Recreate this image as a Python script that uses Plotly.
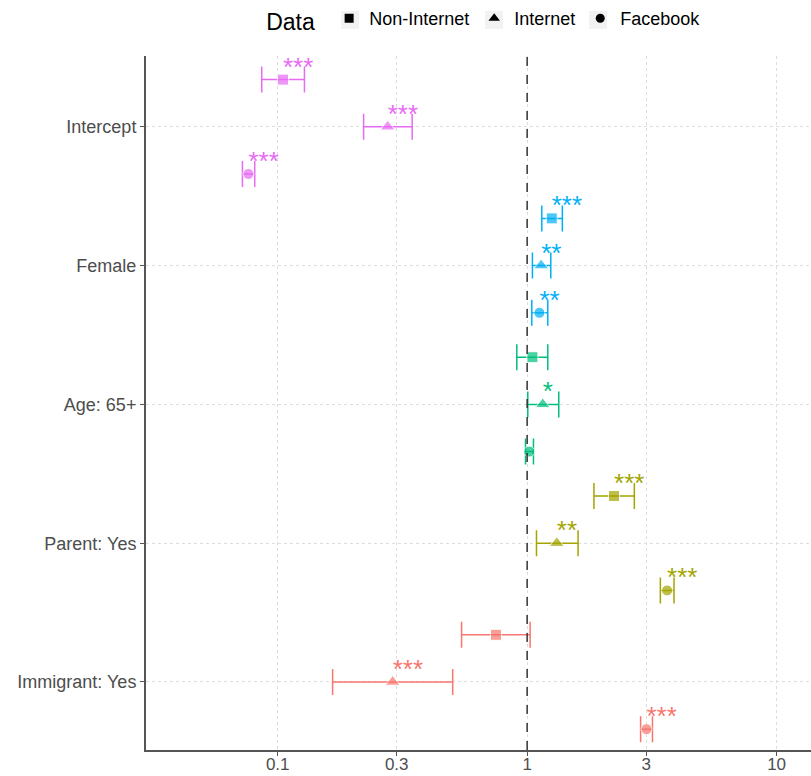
import plotly.graph_objects as go

categories = ["Intercept", "Female", "Age: 65+", "Parent: Yes", "Immigrant: Yes"]
colors = ["#E76BF3", "#00B0F6", "#00BF7D", "#A3A500", "#F8766D"]
data_types = ["Non-Internet", "Internet", "Facebook"]
symbols = ["square", "triangle-up", "circle"]

# estimates and CIs per data type, in category order
nonint_est = [0.105, 1.255, 1.05, 2.23, 0.75]
nonint_lo = [0.0863, 1.145, 0.909, 1.853, 0.546]
nonint_hi = [0.128, 1.384, 1.21, 2.69, 1.028]
nonint_stars = ["***", "***", "", "***", ""]

int_est = [0.276, 1.138, 1.155, 1.315, 0.289]
int_lo = [0.221, 1.05, 1.006, 1.09, 0.166]
int_hi = [0.346, 1.244, 1.339, 1.6, 0.503]
int_stars = ["***", "**", "*", "**", "***"]

fb_est = [0.0763, 1.12, 1.02, 3.64, 3.01]
fb_lo = [0.0722, 1.044, 0.985, 3.42, 2.85]
fb_hi = [0.0809, 1.21, 1.06, 3.88, 3.18]
fb_stars = ["***", "**", "", "***", "***"]

x_ticks = [0.1, 0.3, 1, 3, 10]

est = [nonint_est, int_est, fb_est]
lo = [nonint_lo, int_lo, fb_lo]
hi = [nonint_hi, int_hi, fb_hi]
stars = [nonint_stars, int_stars, fb_stars]
dodge = [0.34, 0.0, -0.34]
ncat = len(categories)
base_y = [ncat - i for i in range(ncat)]

fig = go.Figure()
for ci, cat in enumerate(categories):
    xs = [est[d][ci] for d in range(3)]
    ys = [base_y[ci] + dodge[d] for d in range(3)]
    plus = [hi[d][ci] - est[d][ci] for d in range(3)]
    minus = [est[d][ci] - lo[d][ci] for d in range(3)]
    fig.add_trace(go.Scatter(
        x=xs, y=ys, mode="markers", showlegend=False,
        marker=dict(symbol=symbols, size=[11, 13, 11], color=colors[ci]),
        error_x=dict(type="data", symmetric=False, array=plus, arrayminus=minus,
                     color=colors[ci], thickness=1.5, width=13),
    ))
    fig.add_trace(go.Scatter(
        x=xs, y=[y + 0.075 for y in ys], mode="text", showlegend=False,
        text=[stars[d][ci] for d in range(3)], textposition="middle right",
        textfont=dict(size=26, color=colors[ci], family="Liberation Sans"),
        hoverinfo="skip",
    ))

for d in range(3):
    fig.add_trace(go.Scatter(
        x=[None], y=[None], mode="markers", name=data_types[d],
        marker=dict(symbol=symbols[d], size=[9, 10, 9][d], color="black"),
    ))

fig.add_shape(type="line", x0=1, x1=1, xref="x", y0=0, y1=1, yref="paper",
              line=dict(color="#333333", width=1.5, dash="dash"))

# grey legend key backgrounds (pixel positions converted to paper coords)
L, R, T, B = 146, 811, 55, 750
def px(x):
    return (x - L) / (R - L)
def py(y):
    return (B - y) / (B - T)
for cx in [350, 494, 598]:
    fig.add_shape(type="rect", xref="paper", yref="paper",
                  x0=px(cx - 9), x1=px(cx + 9), y0=py(28), y1=py(10),
                  fillcolor="#F2F2F2", line=dict(width=0), layer="below")

fig.update_layout(
    width=811, height=776,
    margin=dict(l=146, r=0, t=55, b=26),
    paper_bgcolor="white", plot_bgcolor="white",
    font=dict(family="Liberation Sans", size=18, color="#4D4D4D"),
    legend=dict(orientation="h", x=0.51, xanchor="center", y=1.052, yanchor="middle",
                bgcolor="rgba(0,0,0,0)",
                title=dict(text="Data ", font=dict(size=23, color="black")),
                font=dict(size=18, color="black"), itemwidth=30),
    xaxis=dict(type="log", range=[-1.528, 1.138], tickvals=x_ticks,
               ticktext=[str(v) for v in x_ticks], automargin=False,
               ticklabelstandoff=-6,
               showgrid=True, gridcolor="#DDDDDD", griddash="dot", gridwidth=1,
               showline=True, linecolor="#555555", linewidth=2,
               ticks="outside", ticklen=4, tickcolor="#555555",
               zeroline=False, tickfont=dict(size=17, color="#4D4D4D")),
    yaxis=dict(range=[0.51, 5.51], tickvals=base_y, ticktext=categories,
               automargin=False,
               showgrid=True, gridcolor="#DDDDDD", griddash="dot", gridwidth=1,
               showline=True, linecolor="#555555", linewidth=2,
               ticks="outside", ticklen=4, tickcolor="#555555",
               zeroline=False, tickfont=dict(size=18, color="#4D4D4D")),
)

fig.write_html("out.html", config={"displayModeBar": False},
               post_script="document.body.style.margin='0';")
